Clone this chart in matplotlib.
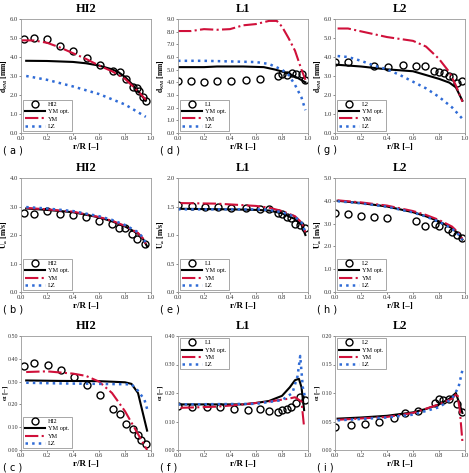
import matplotlib
matplotlib.use('Agg')
import matplotlib.pyplot as plt

plt.rcParams['font.family'] = ['Liberation Serif', 'DejaVu Serif']
plt.rcParams['mathtext.fontset'] = 'stix'

# ==============================================================
# DADOS
# ==============================================================

# (a) HI2 - d_SM
a_exp_x = [0.02, 0.10, 0.20, 0.30, 0.40, 0.51, 0.61, 0.71, 0.76, 0.81, 0.86, 0.89, 0.91, 0.94, 0.96]
a_exp_y = [4.97, 5.02, 4.95, 4.60, 4.30, 3.97, 3.60, 3.27, 3.20, 2.83, 2.42, 2.35, 2.20, 1.87, 1.70]
a_opt_x = [0.04, 0.2, 0.4, 0.5, 0.6, 0.7, 0.75, 0.8, 0.85, 0.9, 0.96]
a_opt_y = [3.80, 3.79, 3.74, 3.67, 3.55, 3.35, 3.20, 2.95, 2.60, 2.20, 1.70]
a_ym_x = [0.0, 0.1, 0.2, 0.3, 0.4, 0.5, 0.6, 0.7, 0.8, 0.9, 0.96]
a_ym_y = [4.88, 4.87, 4.75, 4.50, 4.20, 3.90, 3.55, 3.25, 2.85, 2.20, 1.75]
a_lz_x = [0.04, 0.2, 0.4, 0.6, 0.8, 0.96]
a_lz_y = [3.00, 2.80, 2.45, 2.05, 1.50, 0.85]

# (d) L1 - d_SM
d_exp_x = [0.0, 0.10, 0.20, 0.30, 0.41, 0.52, 0.63, 0.77, 0.80, 0.84, 0.88, 0.91, 0.95, 0.98]
d_exp_y = [4.1, 4.1, 4.0, 4.1, 4.1, 4.2, 4.3, 4.5, 4.65, 4.6, 4.7, 4.65, 4.65, 4.2]
d_opt_x = [0.0, 0.2, 0.3, 0.5, 0.66, 0.75, 0.85, 0.92, 0.98]
d_opt_y = [5.2, 5.2, 5.25, 5.25, 5.2, 5.0, 4.7, 4.35, 4.0]
d_ym_x = [0.0, 0.1, 0.2, 0.3, 0.4, 0.5, 0.6, 0.7, 0.76, 0.8, 0.85, 0.9, 0.95, 0.98]
d_ym_y = [8.05, 8.05, 8.2, 8.15, 8.2, 8.5, 8.6, 8.85, 8.85, 8.4, 7.5, 6.5, 5.0, 4.2]
d_lz_x = [0.0, 0.2, 0.4, 0.6, 0.7, 0.8, 0.85, 0.9, 0.95, 0.98]
d_lz_y = [5.7, 5.7, 5.65, 5.6, 5.45, 5.0, 4.6, 3.8, 2.8, 1.8]

# (g) L2 - d_SM
g_exp_x = [0.0, 0.10, 0.30, 0.41, 0.52, 0.62, 0.69, 0.76, 0.80, 0.84, 0.88, 0.91, 0.94, 0.98]
g_exp_y = [3.75, 3.75, 3.55, 3.45, 3.6, 3.55, 3.55, 3.25, 3.2, 3.15, 3.0, 2.95, 2.65, 2.75]
g_opt_x = [0.0, 0.2, 0.4, 0.6, 0.7, 0.8, 0.88, 0.93, 0.98]
g_opt_y = [3.6, 3.5, 3.35, 3.25, 3.05, 2.85, 2.65, 2.4, 1.7]
g_ym_x = [0.02, 0.1, 0.2, 0.3, 0.4, 0.5, 0.6, 0.7, 0.8, 0.88, 0.93, 0.98]
g_ym_y = [5.5, 5.5, 5.35, 5.2, 5.05, 4.95, 4.85, 4.55, 3.9, 3.2, 2.5, 1.65]
g_lz_x = [0.02, 0.1, 0.2, 0.3, 0.4, 0.5, 0.6, 0.7, 0.8, 0.9, 0.98]
g_lz_y = [4.05, 4.0, 3.8, 3.55, 3.35, 3.05, 2.7, 2.35, 1.9, 1.35, 0.75]

# (b) HI2 - U_a
b_exp_x = [0.02, 0.10, 0.20, 0.30, 0.40, 0.50, 0.60, 0.70, 0.75, 0.80, 0.85, 0.89, 0.95]
b_exp_y = [2.77, 2.75, 2.83, 2.75, 2.70, 2.63, 2.48, 2.38, 2.25, 2.23, 2.02, 1.85, 1.68]
b_opt_x = [0.04, 0.2, 0.4, 0.6, 0.7, 0.8, 0.9, 0.94, 0.97]
b_opt_y = [2.93, 2.88, 2.80, 2.62, 2.48, 2.30, 2.05, 1.85, 1.60]
b_ym_x = [0.04, 0.2, 0.4, 0.6, 0.7, 0.8, 0.9, 0.94, 0.97]
b_ym_y = [2.95, 2.90, 2.82, 2.63, 2.50, 2.32, 2.07, 1.87, 1.60]
b_lz_x = [0.04, 0.2, 0.4, 0.6, 0.7, 0.8, 0.9, 0.94, 0.97]
b_lz_y = [2.98, 2.93, 2.84, 2.66, 2.53, 2.35, 2.10, 1.90, 1.62]

# (e) L1 - U_a
e_exp_x = [0.0, 0.11, 0.21, 0.31, 0.41, 0.52, 0.63, 0.70, 0.77, 0.80, 0.84, 0.87, 0.90, 0.94, 0.98]
e_exp_y = [1.52, 1.51, 1.50, 1.49, 1.48, 1.47, 1.46, 1.45, 1.38, 1.36, 1.32, 1.30, 1.20, 1.18, 1.13]
e_opt_x = [0.0, 0.4, 0.6, 0.7, 0.8, 0.9, 0.95, 0.98]
e_opt_y = [1.46, 1.45, 1.44, 1.43, 1.38, 1.28, 1.18, 1.00]
e_ym_x = [0.02, 0.3, 0.6, 0.7, 0.8, 0.9, 0.95, 0.98]
e_ym_y = [1.56, 1.55, 1.51, 1.48, 1.42, 1.33, 1.22, 1.05]
e_lz_x = [0.0, 0.4, 0.6, 0.7, 0.8, 0.9, 0.95, 0.98]
e_lz_y = [1.45, 1.45, 1.45, 1.44, 1.40, 1.32, 1.22, 1.05]

# (h) L2 - U_a
h_exp_x = [0.0, 0.10, 0.20, 0.30, 0.40, 0.62, 0.69, 0.77, 0.80, 0.87, 0.90, 0.94, 0.98]
h_exp_y = [3.45, 3.40, 3.35, 3.30, 3.25, 3.10, 2.90, 3.00, 2.90, 2.75, 2.65, 2.50, 2.35]
h_opt_x = [0.02, 0.2, 0.4, 0.6, 0.7, 0.8, 0.9, 0.95, 0.98]
h_opt_y = [4.00, 3.90, 3.75, 3.50, 3.32, 3.10, 2.80, 2.55, 2.30]
h_ym_x = [0.02, 0.2, 0.4, 0.6, 0.7, 0.8, 0.9, 0.95, 0.98]
h_ym_y = [4.02, 3.93, 3.79, 3.55, 3.38, 3.16, 2.87, 2.60, 2.32]
h_lz_x = [0.02, 0.2, 0.4, 0.6, 0.7, 0.8, 0.9, 0.95, 0.98]
h_lz_y = [3.98, 3.89, 3.74, 3.49, 3.31, 3.08, 2.78, 2.52, 2.28]

# (c) HI2 - alpha
c_exp_x = [0.02, 0.10, 0.21, 0.31, 0.41, 0.51, 0.61, 0.71, 0.76, 0.81, 0.86, 0.90, 0.92, 0.96]
c_exp_y = [0.37, 0.38, 0.375, 0.35, 0.32, 0.285, 0.24, 0.18, 0.16, 0.115, 0.09, 0.065, 0.045, 0.025]
c_opt_x = [0.04, 0.3, 0.6, 0.8, 0.85, 0.9, 0.97]
c_opt_y = [0.305, 0.303, 0.302, 0.297, 0.29, 0.25, 0.085]
c_ym_x = [0.04, 0.2, 0.4, 0.5, 0.6, 0.7, 0.8, 0.9, 0.97]
c_ym_y = [0.342, 0.345, 0.335, 0.325, 0.30, 0.25, 0.17, 0.07, 0.0]
c_lz_x = [0.04, 0.3, 0.6, 0.85, 0.9, 0.95, 0.97]
c_lz_y = [0.295, 0.292, 0.29, 0.288, 0.26, 0.22, 0.18]

# (f) L1 - alpha
f_exp_x = [0.0, 0.11, 0.22, 0.32, 0.43, 0.54, 0.63, 0.70, 0.77, 0.80, 0.84, 0.87, 0.91, 0.94, 0.98]
f_exp_y = [0.155, 0.152, 0.150, 0.150, 0.145, 0.142, 0.145, 0.137, 0.135, 0.140, 0.145, 0.150, 0.165, 0.185, 0.175]
f_opt_x = [0.0, 0.5, 0.6, 0.7, 0.8, 0.86, 0.9, 0.93, 0.95, 0.97]
f_opt_y = [0.160, 0.160, 0.165, 0.172, 0.190, 0.220, 0.245, 0.250, 0.220, 0.140]
f_ym_x = [0.02, 0.3, 0.5, 0.7, 0.85, 0.9, 0.95, 0.97]
f_ym_y = [0.148, 0.152, 0.160, 0.170, 0.180, 0.185, 0.170, 0.080]
f_lz_x = [0.0, 0.6, 0.8, 0.88, 0.92, 0.94, 0.96, 0.98]
f_lz_y = [0.160, 0.162, 0.175, 0.200, 0.260, 0.330, 0.220, 0.180]

# (i) L2 - alpha
i_exp_x = [0.0, 0.12, 0.23, 0.34, 0.45, 0.54, 0.64, 0.77, 0.80, 0.83, 0.88, 0.94, 0.98]
i_exp_y = [0.040, 0.043, 0.045, 0.050, 0.057, 0.065, 0.069, 0.082, 0.090, 0.087, 0.090, 0.080, 0.066]
i_opt_x = [0.02, 0.2, 0.4, 0.6, 0.7, 0.8, 0.88, 0.93, 0.98]
i_opt_y = [0.055, 0.057, 0.060, 0.066, 0.072, 0.080, 0.090, 0.100, 0.065]
i_ym_x = [0.02, 0.4, 0.6, 0.8, 0.9, 0.94, 0.96, 0.98]
i_ym_y = [0.053, 0.058, 0.065, 0.080, 0.090, 0.100, 0.070, 0.015]
i_lz_x = [0.02, 0.4, 0.6, 0.8, 0.9, 0.95, 0.98]
i_lz_y = [0.052, 0.057, 0.062, 0.075, 0.090, 0.110, 0.140]

casos = ['HI2', 'L1', 'L2']
letras = [['a', 'd', 'g'], ['b', 'e', 'h'], ['c', 'f', 'i']]
ylabels = [r'$\mathbf{d_{SM}}$ [mm]', r'$\mathbf{U_a}$ [m/s]', r'$\mathbf{\alpha}$ [–]']
ylims = [[6, 9, 6], [4, 2, 5], [0.5, 0.4, 0.2]]
ypassos = [[1, 1, 1], [1, 0.5, 1], [0.1, 0.1, 0.05]]
yfmts = ['%.1f', '%.1f', '%.2f']
ytick_fs = [4.8, 4.8, 4.3]
ylab_x = [[-0.085] * 3, [-0.085] * 3, [-0.086, -0.1, -0.1]]
leg_loc = [['lower left'] * 3, ['lower left'] * 3, ['lower left', 'upper left', 'upper left']]

dados = {
    'a': (a_exp_x, a_exp_y, a_opt_x, a_opt_y, a_ym_x, a_ym_y, a_lz_x, a_lz_y),
    'd': (d_exp_x, d_exp_y, d_opt_x, d_opt_y, d_ym_x, d_ym_y, d_lz_x, d_lz_y),
    'g': (g_exp_x, g_exp_y, g_opt_x, g_opt_y, g_ym_x, g_ym_y, g_lz_x, g_lz_y),
    'b': (b_exp_x, b_exp_y, b_opt_x, b_opt_y, b_ym_x, b_ym_y, b_lz_x, b_lz_y),
    'e': (e_exp_x, e_exp_y, e_opt_x, e_opt_y, e_ym_x, e_ym_y, e_lz_x, e_lz_y),
    'h': (h_exp_x, h_exp_y, h_opt_x, h_opt_y, h_ym_x, h_ym_y, h_lz_x, h_lz_y),
    'c': (c_exp_x, c_exp_y, c_opt_x, c_opt_y, c_ym_x, c_ym_y, c_lz_x, c_lz_y),
    'f': (f_exp_x, f_exp_y, f_opt_x, f_opt_y, f_ym_x, f_ym_y, f_lz_x, f_lz_y),
    'i': (i_exp_x, i_exp_y, i_opt_x, i_opt_y, i_ym_x, i_ym_y, i_lz_x, i_lz_y),
}

VERMELHO = '#d0103a'
AZUL = '#2f6bd6'

# ==============================================================
# FIGURA
# ==============================================================

W, H = 469, 473
fig = plt.figure(figsize=(W / 100, H / 100), dpi=100)

col_left = [21, 178, 335]
row_top = [19, 178, 336]
ax_w, ax_h = 130, 114

for r in range(3):
    for c in range(3):
        letra = letras[r][c]
        ex, ey, ox, oy, yx, yy, lx, ly = dados[letra]
        ax = fig.add_axes([col_left[c] / W, (H - row_top[r] - ax_h) / H, ax_w / W, ax_h / H])

        ax.plot(ex, ey, 'o', mfc='none', mec='black', ms=5, mew=1.0, label=casos[c])
        ax.plot(ox, oy, '-', color='black', lw=1.5, label='YM opt.')
        ax.plot(yx, yy, '-.', color=VERMELHO, lw=1.5, label='YM')
        ax.plot(lx, ly, ':', color=AZUL, lw=1.8, label='LZ')

        ax.set_xlim(0, 1)
        ax.set_ylim(0, ylims[r][c])
        passo = ypassos[r][c]
        n = int(round(ylims[r][c] / passo))
        ax.set_yticks([k * passo for k in range(n + 1)])
        ax.set_xticks([0, 0.2, 0.4, 0.6, 0.8, 1.0])
        ax.xaxis.set_major_formatter(matplotlib.ticker.FormatStrFormatter('%.1f'))
        ax.yaxis.set_major_formatter(matplotlib.ticker.FormatStrFormatter(yfmts[r]))
        ax.tick_params(labelsize=4.8, length=1.5, width=0.4, pad=1, colors='#333333')
        ax.tick_params(axis='y', labelsize=ytick_fs[r], pad=0.7)
        for s in ax.spines.values():
            s.set_color('#999999')
            s.set_linewidth(0.6)

        ax.set_title(casos[c], fontsize=9, fontweight='bold', pad=5)
        ax.set_xlabel('r/R [–]', fontsize=6.5, fontweight='bold', labelpad=1)
        ax.set_ylabel(ylabels[r], fontsize=5.5 if r < 2 else 5.2, fontweight='bold')
        ax.yaxis.set_label_coords(ylab_x[r][c], 0.5)

        leg = ax.legend(loc=leg_loc[r][c], fontsize=4.5, frameon=True, fancybox=False,
                        edgecolor='#666666', handlelength=3.2, borderpad=0.35,
                        labelspacing=0.3, handletextpad=0.5, borderaxespad=0.3)
        leg.get_frame().set_linewidth(0.5)

        fig.text((col_left[c] - 18) / W, 1 - (row_top[r] + ax_h + 17) / H,
                 '( %s )' % letra, fontsize=7, family='DejaVu Sans', va='center', ha='left')

fig.savefig('out.png', dpi=100)
